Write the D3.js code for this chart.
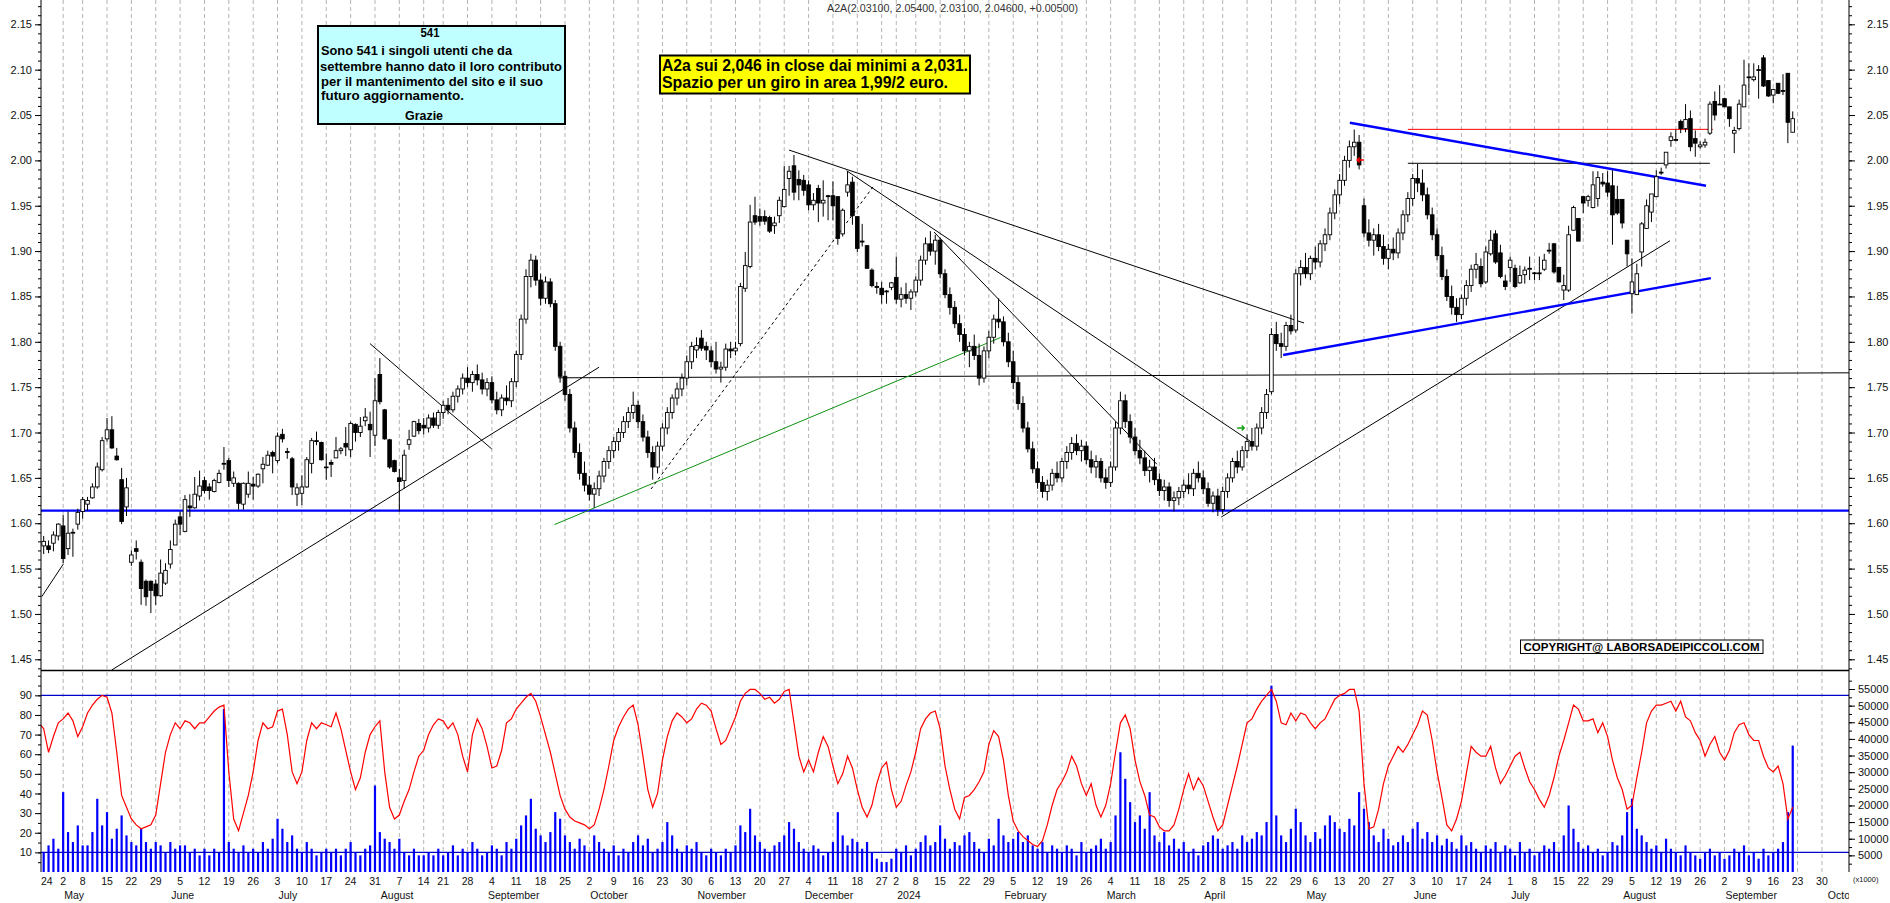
<!DOCTYPE html>
<html>
<head>
<meta charset="utf-8">
<title>A2A</title>
<script src="https://d3js.org/d3.v7.min.js"></script>
<style>
  body { margin: 0; background: #fff; }
  svg { display: block; }
  text { font-family: "Liberation Sans", Arial, sans-serif; }
</style>
</head>
<body>
<div id="chart"></div>
<script>
// trading calendar (Borsa Italiana)
var firstDay = "2023-04-24";
var lastAxisDay = "2024-10-04";
var holidays = ["2023-05-01","2023-08-15","2023-12-25","2023-12-26","2024-01-01",
                "2024-03-29","2024-04-01","2024-05-01","2024-08-15"];
var monthNames = ["January","February","March","April","May","June","July",
                  "August","September","October","November","December"];

// one row per trading day from 24 Apr 2023: [open, high, low, close]
var candles = [
  [1.575,1.585,1.565,1.578],[1.575,1.586,1.566,1.580],[1.575,1.581,1.567,1.571],[1.578,1.591,1.569,1.587],[1.586,1.600,1.581,1.599],
  [1.597,1.609,1.556,1.561],[1.572,1.613,1.565,1.589],[1.589,1.594,1.563,1.590],[1.599,1.616,1.593,1.612],[1.613,1.629,1.605,1.626],
  [1.621,1.629,1.614,1.625],[1.628,1.644,1.627,1.640],[1.640,1.667,1.638,1.662],[1.659,1.695,1.657,1.691],[1.693,1.716,1.690,1.703],
  [1.703,1.718,1.682,1.683],[1.674,1.683,1.669,1.670],[1.648,1.661,1.599,1.602],[1.618,1.650,1.608,1.639],[1.557,1.570,1.553,1.565],
  [1.572,1.581,1.560,1.569],[1.557,1.560,1.510,1.528],[1.536,1.538,1.509,1.519],[1.536,1.537,1.501,1.526],[1.533,1.538,1.510,1.520],
  [1.520,1.560,1.519,1.545],[1.534,1.556,1.532,1.548],[1.555,1.581,1.550,1.571],[1.576,1.604,1.576,1.599],[1.607,1.613,1.587,1.599],
  [1.591,1.631,1.590,1.626],[1.619,1.632,1.607,1.617],[1.617,1.651,1.616,1.632],[1.630,1.658,1.625,1.641],[1.647,1.651,1.633,1.636],
  [1.640,1.644,1.626,1.636],[1.635,1.649,1.634,1.647],[1.645,1.659,1.644,1.655],[1.665,1.684,1.659,1.666],[1.669,1.672,1.640,1.647],
  [1.644,1.657,1.640,1.650],[1.644,1.645,1.615,1.622],[1.621,1.645,1.615,1.644],[1.632,1.657,1.628,1.644],[1.643,1.651,1.626,1.641],
  [1.641,1.655,1.639,1.654],[1.660,1.673,1.644,1.665],[1.664,1.680,1.663,1.675],[1.678,1.680,1.655,1.674],[1.669,1.700,1.666,1.696],
  [1.698,1.704,1.689,1.693],[1.679,1.683,1.671,1.678],[1.671,1.673,1.631,1.640],[1.632,1.644,1.619,1.639],[1.633,1.653,1.620,1.640],
  [1.640,1.673,1.639,1.670],[1.666,1.694,1.655,1.691],[1.691,1.701,1.686,1.690],[1.689,1.690,1.669,1.670],[1.662,1.677,1.648,1.662],
  [1.667,1.670,1.651,1.665],[1.672,1.695,1.672,1.680],[1.680,1.684,1.676,1.682],[1.688,1.706,1.674,1.684],[1.681,1.712,1.673,1.710],
  [1.709,1.710,1.690,1.700],[1.700,1.717,1.695,1.707],[1.713,1.727,1.707,1.717],[1.709,1.723,1.673,1.703],[1.697,1.760,1.685,1.735],
  [1.764,1.782,1.731,1.734],[1.725,1.726,1.692,1.693],[1.692,1.693,1.660,1.662],[1.669,1.670,1.656,1.657],[1.650,1.660,1.613,1.646],
  [1.647,1.681,1.638,1.675],[1.687,1.703,1.681,1.692],[1.696,1.713,1.695,1.712],[1.710,1.715,1.698,1.702],[1.708,1.716,1.698,1.705],
  [1.705,1.720,1.700,1.716],[1.716,1.722,1.705,1.708],[1.708,1.725,1.704,1.722],[1.722,1.735,1.715,1.730],[1.730,1.738,1.720,1.725],
  [1.725,1.745,1.722,1.740],[1.740,1.752,1.733,1.748],[1.748,1.765,1.742,1.760],[1.760,1.772,1.750,1.755],[1.755,1.768,1.745,1.764],
  [1.764,1.775,1.752,1.758],[1.758,1.766,1.742,1.748],[1.748,1.760,1.740,1.755],[1.755,1.762,1.732,1.736],[1.736,1.745,1.720,1.725],
  [1.725,1.742,1.718,1.738],[1.738,1.752,1.730,1.735],[1.735,1.760,1.728,1.756],[1.756,1.790,1.750,1.786],[1.786,1.830,1.780,1.825],
  [1.825,1.880,1.820,1.872],[1.872,1.897,1.860,1.890],[1.890,1.895,1.862,1.868],[1.868,1.875,1.840,1.848],[1.848,1.872,1.842,1.866],
  [1.866,1.870,1.838,1.842],[1.842,1.846,1.790,1.795],[1.795,1.800,1.755,1.762],[1.762,1.768,1.735,1.742],[1.742,1.748,1.700,1.705],
  [1.705,1.712,1.672,1.678],[1.678,1.688,1.648,1.655],[1.655,1.668,1.635,1.642],[1.642,1.652,1.625,1.632],[1.632,1.645,1.617,1.638],
  [1.638,1.658,1.630,1.652],[1.652,1.672,1.645,1.668],[1.668,1.685,1.660,1.680],[1.680,1.695,1.672,1.690],[1.690,1.705,1.680,1.700],
  [1.700,1.718,1.694,1.712],[1.712,1.728,1.705,1.722],[1.722,1.745,1.715,1.730],[1.730,1.735,1.705,1.712],[1.712,1.720,1.690,1.695],
  [1.695,1.702,1.672,1.678],[1.678,1.685,1.648,1.662],[1.662,1.690,1.655,1.685],[1.685,1.710,1.680,1.705],[1.705,1.728,1.698,1.722],
  [1.722,1.742,1.715,1.738],[1.738,1.755,1.730,1.748],[1.748,1.765,1.740,1.760],[1.760,1.785,1.752,1.778],[1.778,1.800,1.770,1.795],
  [1.791,1.805,1.782,1.796],[1.804,1.813,1.790,1.793],[1.795,1.800,1.780,1.791],[1.790,1.795,1.772,1.778],[1.778,1.800,1.765,1.770],
  [1.770,1.778,1.755,1.772],[1.772,1.798,1.768,1.792],[1.792,1.800,1.782,1.790],[1.790,1.800,1.785,1.793],[1.798,1.865,1.795,1.861],
  [1.859,1.899,1.855,1.884],[1.883,1.951,1.881,1.932],[1.939,1.960,1.929,1.932],[1.938,1.947,1.928,1.933],[1.938,1.945,1.929,1.933],
  [1.937,1.939,1.920,1.922],[1.928,1.938,1.919,1.931],[1.939,1.960,1.931,1.956],[1.949,1.994,1.948,1.968],[1.980,1.994,1.961,1.988],
  [1.994,2.006,1.956,1.965],[1.979,1.989,1.956,1.973],[1.978,1.984,1.961,1.967],[1.973,1.978,1.945,1.951],[1.951,1.964,1.945,1.956],
  [1.969,1.973,1.932,1.953],[1.953,1.978,1.938,1.956],[1.961,1.962,1.934,1.960],[1.961,1.977,1.934,1.950],[1.960,1.960,1.907,1.914],
  [1.919,1.947,1.916,1.945],[1.965,1.988,1.960,1.973],[1.976,1.982,1.929,1.939],[1.938,1.938,1.899,1.903],[1.910,1.930,1.905,1.911],
  [1.906,1.906,1.881,1.881],[1.879,1.881,1.860,1.862],[1.861,1.866,1.853,1.860],[1.859,1.866,1.842,1.852],[1.855,1.857,1.842,1.856],
  [1.860,1.866,1.857,1.865],[1.871,1.894,1.842,1.847],[1.847,1.860,1.838,1.852],[1.852,1.865,1.842,1.848],[1.848,1.858,1.835,1.855],
  [1.855,1.872,1.850,1.868],[1.868,1.895,1.862,1.890],[1.890,1.915,1.885,1.908],[1.908,1.922,1.895,1.900],[1.900,1.918,1.885,1.912],
  [1.912,1.915,1.870,1.875],[1.875,1.880,1.848,1.852],[1.852,1.860,1.830,1.838],[1.838,1.845,1.815,1.820],[1.820,1.830,1.800,1.808],
  [1.808,1.815,1.785,1.790],[1.790,1.800,1.772,1.795],[1.795,1.808,1.780,1.785],[1.785,1.798,1.752,1.760],[1.760,1.795,1.755,1.790],
  [1.790,1.812,1.782,1.805],[1.805,1.830,1.798,1.825],[1.825,1.848,1.815,1.822],[1.822,1.828,1.795,1.800],[1.800,1.810,1.772,1.778],
  [1.778,1.790,1.748,1.755],[1.755,1.762,1.725,1.732],[1.732,1.740,1.700,1.705],[1.705,1.712,1.678,1.682],[1.682,1.690,1.655,1.660],
  [1.660,1.668,1.638,1.645],[1.645,1.652,1.628,1.635],[1.635,1.648,1.625,1.642],[1.642,1.660,1.636,1.655],[1.655,1.668,1.645,1.650],
  [1.650,1.672,1.645,1.668],[1.668,1.685,1.660,1.678],[1.678,1.695,1.670,1.688],[1.688,1.698,1.675,1.680],[1.680,1.692,1.668,1.685],
  [1.685,1.690,1.665,1.670],[1.670,1.680,1.655,1.662],[1.662,1.675,1.650,1.668],[1.668,1.672,1.645,1.650],[1.650,1.660,1.638,1.645],
  [1.645,1.668,1.640,1.662],[1.662,1.712,1.658,1.705],[1.705,1.745,1.698,1.735],[1.735,1.742,1.705,1.712],[1.712,1.720,1.688,1.695],
  [1.695,1.705,1.675,1.680],[1.680,1.692,1.665,1.672],[1.672,1.680,1.652,1.658],[1.658,1.670,1.645,1.662],[1.662,1.672,1.642,1.648],
  [1.648,1.655,1.630,1.636],[1.636,1.648,1.625,1.640],[1.640,1.645,1.618,1.625],[1.625,1.635,1.613,1.628],[1.628,1.640,1.620,1.635],
  [1.635,1.648,1.628,1.642],[1.642,1.655,1.632,1.638],[1.638,1.660,1.630,1.655],[1.655,1.668,1.645,1.650],[1.650,1.658,1.632,1.638],
  [1.638,1.645,1.618,1.622],[1.622,1.635,1.612,1.630],[1.630,1.638,1.608,1.615],[1.615,1.640,1.610,1.635],[1.635,1.655,1.628,1.650],
  [1.650,1.672,1.645,1.668],[1.668,1.680,1.655,1.662],[1.662,1.685,1.658,1.680],[1.680,1.698,1.672,1.690],[1.690,1.705,1.680,1.685],
  [1.685,1.710,1.680,1.705],[1.705,1.728,1.698,1.722],[1.722,1.748,1.715,1.742],[1.745,1.815,1.742,1.808],[1.808,1.822,1.790,1.798],
  [1.798,1.810,1.782,1.795],[1.795,1.822,1.790,1.818],[1.818,1.830,1.808,1.812],[1.813,1.880,1.810,1.875],[1.875,1.890,1.862,1.882],
  [1.882,1.898,1.870,1.875],[1.875,1.895,1.868,1.892],[1.892,1.905,1.880,1.888],[1.888,1.912,1.882,1.908],[1.908,1.925,1.900,1.918],
  [1.918,1.948,1.912,1.942],[1.942,1.968,1.935,1.962],[1.962,1.985,1.952,1.978],[1.978,2.005,1.972,2.000],[2.000,2.022,1.992,2.015],
  [2.015,2.034,2.005,2.020],[2.020,2.028,1.990,1.995],[1.950,1.958,1.915,1.920],[1.920,1.935,1.905,1.912],[1.912,1.925,1.895,1.918],
  [1.918,1.930,1.900,1.905],[1.905,1.918,1.885,1.892],[1.892,1.908,1.880,1.902],[1.902,1.915,1.890,1.898],[1.898,1.925,1.892,1.920],
  [1.920,1.945,1.912,1.940],[1.940,1.965,1.932,1.958],[1.958,1.985,1.950,1.980],[1.980,1.996,1.965,1.975],[1.975,1.990,1.955,1.962],
  [1.962,1.970,1.935,1.940],[1.940,1.948,1.912,1.918],[1.918,1.925,1.890,1.895],[1.895,1.905,1.868,1.872],[1.872,1.880,1.845,1.850],
  [1.850,1.862,1.830,1.838],[1.838,1.848,1.822,1.830],[1.830,1.852,1.825,1.848],[1.848,1.868,1.840,1.862],[1.862,1.885,1.855,1.880],
  [1.880,1.898,1.870,1.885],[1.883,1.892,1.860,1.864],[1.866,1.905,1.864,1.899],[1.897,1.923,1.895,1.912],[1.919,1.923,1.886,1.888],
  [1.898,1.907,1.870,1.872],[1.867,1.874,1.857,1.861],[1.882,1.894,1.866,1.890],[1.881,1.885,1.859,1.861],[1.865,1.884,1.864,1.873],
  [1.874,1.883,1.864,1.879],[1.880,1.894,1.868,1.881],[1.876,1.877,1.868,1.876],[1.875,1.894,1.868,1.876],[1.880,1.897,1.878,1.890],
  [1.900,1.909,1.897,1.901],[1.908,1.909,1.875,1.877],[1.882,1.882,1.866,1.866],[1.857,1.874,1.846,1.862],[1.857,1.928,1.855,1.918],
  [1.923,1.950,1.923,1.948],[1.936,1.936,1.911,1.911],[1.960,1.961,1.942,1.953],[1.956,1.962,1.949,1.960],[1.948,1.988,1.947,1.973],
  [1.958,1.988,1.949,1.981],[1.976,1.986,1.971,1.974],[1.975,1.988,1.960,1.965],[1.972,1.989,1.907,1.940],[1.957,1.972,1.940,1.942],
  [1.957,1.957,1.925,1.931],[1.912,1.912,1.883,1.897],[1.853,1.892,1.831,1.866],[1.852,1.886,1.852,1.875],[1.899,1.932,1.883,1.930],
  [1.925,1.957,1.925,1.950],[1.943,1.963,1.932,1.963],[1.960,1.989,1.960,1.982],[1.986,1.992,1.984,1.987],[1.995,2.009,1.991,2.009],
  [2.022,2.031,2.015,2.026],[2.022,2.034,2.021,2.023],[2.043,2.045,2.030,2.035],[2.035,2.062,2.031,2.045],[2.046,2.055,2.010,2.015],
  [2.024,2.033,2.004,2.019],[2.015,2.021,2.013,2.017],[2.017,2.024,2.014,2.020],[2.030,2.065,2.028,2.062],[2.065,2.076,2.044,2.050],
  [2.062,2.083,2.061,2.062],[2.068,2.069,2.059,2.059],[2.059,2.059,2.037,2.046],[2.030,2.037,2.008,2.033],[2.035,2.067,2.033,2.062],
  [2.059,2.111,2.059,2.083],[2.092,2.107,2.072,2.092],[2.089,2.107,2.087,2.092],[2.100,2.105,2.068,2.100],[2.113,2.116,2.081,2.082],
  [2.088,2.088,2.070,2.071],[2.072,2.079,2.063,2.078],[2.085,2.085,2.073,2.074],[2.077,2.095,2.072,2.077],[2.096,2.096,2.019,2.042],
  [2.031,2.054,2.031,2.046]
];

// volume, thousands of shares
var volumes = [
  9,6,8,10,7,24,12,9,14,8,  8,12,22,14,18,10,13,17,11,9,  8,13,9,7,9,8,6,9,7,8,  8,6,7,5,7,5,7,6,49,9,
  7,6,8,6,7,6,9,7,10,16,  13,9,11,7,6,9,7,5,6,7,  6,7,5,7,9,6,5,7,8,26,  12,10,9,7,10,6,5,7,5,5,
  6,5,7,5,6,8,5,7,6,9,  7,5,6,8,7,5,9,7,10,14,  17,22,13,11,9,12,18,16,11,9,  7,10,8,6,11,9,7,6,8,5,
  7,6,9,11,8,10,6,7,9,15,  11,7,6,8,7,9,6,5,7,6,  5,7,6,8,14,12,19,11,9,7,  6,8,9,11,15,13,9,7,6,8,
  7,5,6,9,18,11,8,10,9,7,  9,6,4,3,3,4,7,6,8,5,  7,9,11,8,9,14,10,7,9,8,  11,12,9,7,6,10,8,16,11,9,
  10,12,9,11,8,7,9,6,8,7,  6,8,7,5,9,6,7,8,10,7,  9,17,36,28,21,15,17,13,24,11,  9,12,8,10,7,9,6,7,5,8,
  9,11,10,7,8,9,7,11,9,10,  12,11,15,56,17,11,9,13,19,15,  11,9,12,10,14,17,15,13,12,16,  14,24,19,15,11,9,13,10,8,9,
  11,9,13,15,10,12,9,11,8,10,  9,7,11,8,9,7,6,8,7,9,  6,8,7,5,9,6,7,5,6,8,  7,9,6,11,20,13,9,7,8,6,
  7,5,6,9,8,11,18,22,13,11,  9,7,8,6,10,7,6,5,8,6,  5,4,6,7,5,6,4,5,7,6,  8,5,6,4,7,5,6,7,9,18,38
];

// red oscillator line (0-100)
var oscillator = [
  76,73,61,69,76,78,81,77,69,74,  81,85,88,90,89,81,61,39,33,27,  24,22,23,24,29,45,61,70,76,73,  77,76,73,76,76,79,82,84,85,51,
  27,21,30,39,51,67,76,73,74,82,  83,70,51,45,51,67,76,73,76,75,  74,81,73,62,51,42,48,61,70,74,  77,51,33,27,29,36,42,51,59,62,
  70,75,78,77,73,76,70,59,51,70,  78,73,64,53,54,62,76,78,83,86,  89,91,87,79,70,61,50,39,32,28,  26,25,24,22,24,32,42,54,67,74,
  79,83,85,75,59,42,33,40,57,69,  77,81,79,76,78,83,86,85,82,73,  65,67,73,79,87,91,93,93,91,88,  89,86,88,92,93,76,59,51,57,51,
  61,69,64,54,45,50,59,53,42,33,  28,34,45,53,56,42,33,36,44,51,  61,73,78,81,82,73,54,42,32,27,  38,39,42,46,51,65,72,69,57,39,
  26,21,18,16,14,13,16,24,34,42,  46,51,59,54,45,39,45,34,28,34,  45,61,76,80,73,57,46,39,29,28,  23,21,21,24,32,42,50,42,48,44,
  36,28,21,24,34,44,54,65,76,78,  83,87,90,93,87,76,75,81,77,81,  80,76,73,76,78,83,88,90,91,93,  93,82,45,22,23,32,45,54,59,64,
  61,65,70,75,82,80,67,51,38,24,  21,27,36,50,64,61,59,59,64,53,  45,49,54,59,61,53,46,42,37,33,  39,48,59,67,76,85,83,77,77,78,
  71,76,69,57,48,42,32,34,48,61,  76,82,85,85,86,87,82,87,79,77,  71,67,59,65,69,61,57,62,71,75,  76,70,67,67,59,53,51,54,45,27,33
];

var priceTicks = ["1.45","1.50","1.55","1.60","1.65","1.70","1.75","1.80","1.85","1.90","1.95","2.00","2.05","2.10","2.15"];
var oscTicks = [10,20,30,40,50,60,70,80,90];
var volTicks = [5000,10000,15000,20000,25000,30000,35000,40000,45000,50000,55000];
var oscLevels = [90, 10];
var supportLevel = 1.6138;

// hand drawn lines: [day index, price, day index, price]
var blackLines = [
  [0.6,1.519,5.03,1.555], [14.96,1.4382,115.0,1.772], [67.98,1.798,92.94,1.682],
  [153.98,2.0114,259.7,1.8207], [165.8,1.9886,248.6,1.6906], [183.75,1.921,229.5,1.665],
  [242.7,1.6068,334.8,1.9114], [106.6,1.7603,371.6,1.7658], [281,1.9968,343,1.9968]
];
var blueLines = [[269.1,2.0415,342.2,1.972], [255.4,1.7854,343.2,1.8702]];
var greenLines = [[105.85,1.5985,197.4,1.8047]];
var dashedLines = [[125.66,1.6377,171.2,1.9707]];
var redLines = [[281,2.0342,343.6,2.0342]];

var W = 1890, H = 903;
var plotL = 41, plotR = 1849, priceBot = 670, oscBot = 872;

var svg = d3.select("#chart").append("svg").attr("width", W).attr("height", H);

// trading days, including the empty ones at the right edge
var holidaySet = new Set(holidays);
var fmtIso = d3.utcFormat("%Y-%m-%d");
var days = d3.utcDays(new Date(firstDay + "T00:00:00Z"), d3.utcDay.offset(new Date(lastAxisDay + "T00:00:00Z"), 1))
  .filter(function(d){ return d.getUTCDay() > 0 && d.getUTCDay() < 6 && !holidaySet.has(fmtIso(d)); });

var x = d3.scaleLinear().domain([0.45, 371.55]).range([plotL, plotR]);
var yPrice = d3.scaleLinear().domain([1.4382, 2.1768]).range([priceBot, 0]);
var yOsc = d3.scaleLinear().domain([0, 100]).range([oscBot, 675.7]);
var yVol = d3.scaleLinear().domain([0, 55000]).range([oscBot, 689]);

var defs = svg.append("defs");
defs.append("clipPath").attr("id", "clipAll").append("rect")
  .attr("x", plotL).attr("y", 0).attr("width", plotR - plotL).attr("height", oscBot);
defs.append("clipPath").attr("id", "clipPrice").append("rect")
  .attr("x", plotL).attr("y", 0).attr("width", plotR - plotL).attr("height", priceBot);
defs.append("clipPath").attr("id", "clipLow").append("rect")
  .attr("x", plotL).attr("y", priceBot + 1).attr("width", plotR - plotL).attr("height", oscBot - priceBot - 1);
defs.append("clipPath").attr("id", "clipLabels").append("rect")
  .attr("x", 0).attr("y", oscBot).attr("width", plotR).attr("height", H - oscBot);

// weekly dashed grid
var weekStarts = d3.range(days.length).filter(function(i){
  return i === 0 || +d3.utcMonday.floor(days[i]) !== +d3.utcMonday.floor(days[i - 1]);
});
var monthStarts = d3.range(1, days.length).filter(function(i){
  return days[i].getUTCMonth() !== days[i - 1].getUTCMonth();
});

svg.append("g").attr("clip-path", "url(#clipAll)")
  .selectAll("line").data(weekStarts).join("line")
  .attr("x1", function(i){ return x(i); }).attr("x2", function(i){ return x(i); })
  .attr("y1", 0).attr("y2", oscBot)
  .attr("stroke", "#b4b4b4").attr("stroke-dasharray", "4,3");

// ---------- price panel ----------
var pricePanel = svg.append("g").attr("clip-path", "url(#clipPrice)");

pricePanel.append("line")
  .attr("x1", plotL).attr("x2", plotR)
  .attr("y1", yPrice(supportLevel)).attr("y2", yPrice(supportLevel))
  .attr("stroke", "#0000ff").attr("stroke-width", 2.2);

function drawLines(data, color, width, dash) {
  pricePanel.append("g").selectAll("line").data(data).join("line")
    .attr("x1", function(d){ return x(d[0]); }).attr("y1", function(d){ return yPrice(d[1]); })
    .attr("x2", function(d){ return x(d[2]); }).attr("y2", function(d){ return yPrice(d[3]); })
    .attr("stroke", color).attr("stroke-width", width)
    .attr("stroke-dasharray", dash || null);
}
drawLines(blackLines, "#000", 1);
drawLines(greenLines, "#109010", 1);
drawLines(dashedLines, "#000", 1, "3,3");
drawLines(redLines, "#ff0000", 1);
drawLines(blueLines, "#0000ff", 2.4);

var candle = pricePanel.append("g").selectAll("g").data(candles).join("g");
candle.append("line")
  .attr("x1", function(d, i){ return x(i); }).attr("x2", function(d, i){ return x(i); })
  .attr("y1", function(d){ return yPrice(d[1]); }).attr("y2", function(d){ return yPrice(d[2]); })
  .attr("stroke", "#000").attr("stroke-width", 1);
candle.append("rect")
  .attr("x", function(d, i){ return x(i) - 1.8; })
  .attr("width", 3.6)
  .attr("y", function(d){ return yPrice(Math.max(d[0], d[3])); })
  .attr("height", function(d){ return Math.max(0.8, Math.abs(yPrice(d[0]) - yPrice(d[3]))); })
  .attr("fill", function(d){ return d[3] > d[0] ? "#fff" : "#000"; })
  .attr("stroke", "#000").attr("stroke-width", 0.9);

// little arrows
var arrows = [
  {i: 246.8, p: 1.705, dir: 1, color: "#10a010"},
  {i: 271.2, p: 2.0004, dir: -1, color: "#ff0000"}
];
pricePanel.append("g").selectAll("path").data(arrows).join("path")
  .attr("d", function(a){
    var cx = x(a.i), cy = yPrice(a.p), s = a.dir;
    return "M" + (cx - 4 * s) + "," + cy + "L" + (cx + 3 * s) + "," + cy +
           "M" + (cx + 0.5 * s) + "," + (cy - 2.5) + "L" + (cx + 3 * s) + "," + cy + "L" + (cx + 0.5 * s) + "," + (cy + 2.5);
  })
  .attr("fill", "none").attr("stroke", function(a){ return a.color; }).attr("stroke-width", 1.4);

// ---------- lower panel ----------
var lowPanel = svg.append("g").attr("clip-path", "url(#clipLow)");

lowPanel.append("g").selectAll("rect").data(volumes).join("rect")
  .attr("x", function(d, i){ return x(i) - 1.1; })
  .attr("width", 2.2)
  .attr("y", function(d){ return yVol(d * 1000); })
  .attr("height", function(d){ return oscBot - yVol(d * 1000); })
  .attr("fill", "#0000ff");

lowPanel.append("g").selectAll("line").data(oscLevels).join("line")
  .attr("x1", plotL).attr("x2", plotR)
  .attr("y1", function(d){ return yOsc(d); }).attr("y2", function(d){ return yOsc(d); })
  .attr("stroke", "#0000cc").attr("stroke-width", 1.3);

lowPanel.append("path").datum(oscillator)
  .attr("d", d3.line().x(function(d, i){ return x(i); }).y(function(d){ return yOsc(d); }))
  .attr("fill", "none").attr("stroke", "#ff0000").attr("stroke-width", 1.2);

// ---------- frame and axes ----------
svg.append("line").attr("x1", plotL).attr("x2", plotR).attr("y1", priceBot + 0.5).attr("y2", priceBot + 0.5)
  .attr("stroke", "#000").attr("stroke-width", 1.6);
[plotL, plotR].forEach(function(px){
  svg.append("line").attr("x1", px).attr("x2", px).attr("y1", 0).attr("y2", oscBot)
    .attr("stroke", "#000").attr("stroke-width", 1);
});

function styleAxis(g) {
  g.select(".domain").remove();
  g.selectAll("text").attr("font-size", 11).attr("fill", "#111")
    .attr("font-family", '"Liberation Sans", Arial, sans-serif');
  g.selectAll("line").attr("stroke", "#000");
}

var priceMinor = d3.range(144, 218).map(function(v){ return v / 100; });
var oscMinor = d3.range(5, 101, 5);
var volMinor = d3.range(2500, 57501, 2500);
var priceMajor = priceTicks.map(Number);

svg.append("g").attr("transform", "translate(" + plotL + ",0)")
  .call(d3.axisLeft(yPrice).tickValues(priceMinor).tickSize(3).tickFormat("")).call(styleAxis);
svg.append("g").attr("transform", "translate(" + plotL + ",0)")
  .call(d3.axisLeft(yPrice).tickValues(priceMajor).tickSize(6).tickPadding(3)
    .tickFormat(function(d, i){ return priceTicks[i]; })).call(styleAxis);
svg.append("g").attr("transform", "translate(" + plotR + ",0)")
  .call(d3.axisRight(yPrice).tickValues(priceMinor).tickSize(3).tickFormat("")).call(styleAxis);
svg.append("g").attr("transform", "translate(" + plotR + ",0)")
  .call(d3.axisRight(yPrice).tickValues(priceMajor).tickSize(6).tickPadding(12)
    .tickFormat(function(d, i){ return priceTicks[i]; })).call(styleAxis);

svg.append("g").attr("transform", "translate(" + plotL + ",0)")
  .call(d3.axisLeft(yOsc).tickValues(oscMinor).tickSize(3).tickFormat("")).call(styleAxis);
svg.append("g").attr("transform", "translate(" + plotL + ",0)")
  .call(d3.axisLeft(yOsc).tickValues(oscTicks).tickSize(6).tickPadding(3)).call(styleAxis);
svg.append("g").attr("transform", "translate(" + plotR + ",0)")
  .call(d3.axisRight(yVol).tickValues(volMinor).tickSize(3).tickFormat("")).call(styleAxis);
svg.append("g").attr("transform", "translate(" + plotR + ",0)")
  .call(d3.axisRight(yVol).tickValues(volTicks).tickSize(6).tickPadding(3).tickFormat(d3.format("d"))).call(styleAxis);

svg.append("text").attr("x", plotR + 4).attr("y", oscBot + 10)
  .attr("font-size", 7.5).attr("fill", "#111").text("(x1000)");

// date labels
var labels = svg.append("g").attr("clip-path", "url(#clipLabels)").attr("font-size", 10.5).attr("fill", "#111");
labels.selectAll("text.day").data(weekStarts).join("text").attr("class", "day")
  .attr("x", function(i){ return i === 0 ? plotL : x(i); })
  .attr("y", oscBot + 13)
  .attr("text-anchor", function(i){ return i === 0 ? "start" : "middle"; })
  .text(function(i){ return days[i].getUTCDate(); });
labels.selectAll("text.month").data(monthStarts).join("text").attr("class", "month")
  .attr("x", function(i){ return x(i) + 1; })
  .attr("y", oscBot + 27)
  .text(function(i){ var m = days[i].getUTCMonth(); return m === 0 ? String(days[i].getUTCFullYear()) : monthNames[m]; });

// ---------- texts ----------
svg.append("text").attr("x", 827).attr("y", 12).attr("font-size", 10).attr("fill", "#333")
  .attr("textLength", 251).attr("lengthAdjust", "spacingAndGlyphs")
  .text("A2A(2.03100, 2.05400, 2.03100, 2.04600, +0.00500)");

var note = svg.append("g");
note.append("rect").attr("x", 318).attr("y", 26).attr("width", 247).attr("height", 98)
  .attr("fill", "#c0ffff").attr("stroke", "#000").attr("stroke-width", 2);
var noteLines = [
  {t: "541", x: 430, y: 37, anchor: "middle", len: 19},
  {t: "Sono 541 i singoli utenti che da", x: 321, y: 55, anchor: "start", len: 191},
  {t: "settembre hanno dato il loro contributo", x: 320, y: 70.5, anchor: "start", len: 242},
  {t: "per il mantenimento  del sito e il suo", x: 321, y: 85.5, anchor: "start", len: 222},
  {t: "futuro aggiornamento.", x: 321, y: 100, anchor: "start", len: 143},
  {t: "Grazie", x: 424, y: 120, anchor: "middle", len: 38}
];
note.selectAll("text").data(noteLines).join("text")
  .attr("x", function(d){ return d.x; }).attr("y", function(d){ return d.y; })
  .attr("text-anchor", function(d){ return d.anchor; })
  .attr("textLength", function(d){ return d.len; }).attr("lengthAdjust", "spacingAndGlyphs")
  .attr("font-size", 12.5).attr("font-weight", "bold").attr("fill", "#000")
  .text(function(d){ return d.t; });

var comment = svg.append("g");
comment.append("rect").attr("x", 660).attr("y", 55.5).attr("width", 310).attr("height", 38)
  .attr("fill", "#ffff00").attr("stroke", "#000").attr("stroke-width", 2);
comment.append("text").attr("x", 662).attr("y", 71).attr("font-size", 16.5).attr("font-weight", "bold")
  .attr("textLength", 306).attr("lengthAdjust", "spacingAndGlyphs")
  .text("A2a sui 2,046 in close dai minimi a 2,031.");
comment.append("text").attr("x", 662).attr("y", 88).attr("font-size", 16.5).attr("font-weight", "bold")
  .attr("textLength", 286).attr("lengthAdjust", "spacingAndGlyphs")
  .text("Spazio per un giro in area 1,99/2 euro.");

var copy = svg.append("g");
copy.append("rect").attr("x", 1520.5).attr("y", 640).attr("width", 242.5).attr("height", 13.5)
  .attr("fill", "#fff").attr("stroke", "#000").attr("stroke-width", 1);
copy.append("text").attr("x", 1523.5).attr("y", 650.5).attr("font-size", 11).attr("font-weight", "bold")
  .attr("textLength", 236).attr("lengthAdjust", "spacingAndGlyphs")
  .text("COPYRIGHT@ LABORSADEIPICCOLI.COM");
</script>
</body>
</html>
